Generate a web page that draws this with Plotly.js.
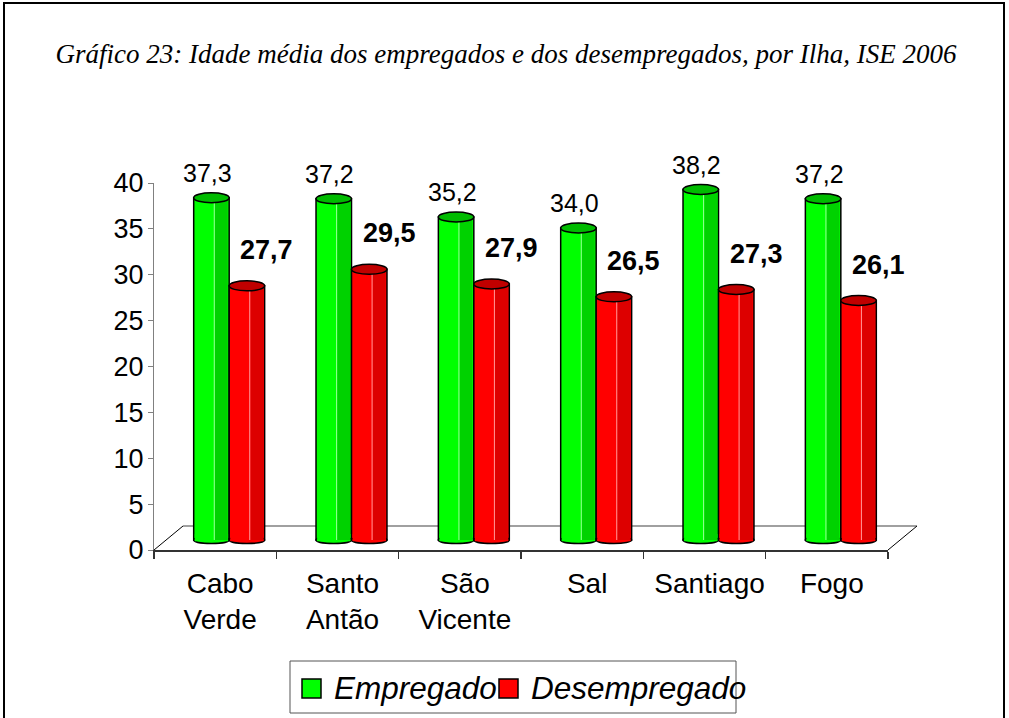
<!DOCTYPE html>
<html>
<head>
<meta charset="utf-8">
<script src="https://cdn.plot.ly/plotly-3.0.1.min.js"></script>
<style>html,body{margin:0;padding:0;background:#fff;}#chart{width:1009px;height:718px;}</style>
</head>
<body>
<div id="chart"></div>
<script>
const titleText = "Gráfico 23: Idade média dos empregados e dos desempregados, por Ilha, ISE 2006";
const categories = ["Cabo Verde", "Santo Antão", "São Vicente", "Sal", "Santiago", "Fogo"];
const empregado = [37.3, 37.2, 35.2, 34.0, 38.2, 37.2];
const desempregado = [27.7, 29.5, 27.9, 26.5, 27.3, 26.1];
const seriesNames = ["Empregado", "Desempregado"];
const yTicks = [0, 5, 10, 15, 20, 25, 30, 35, 40];

// layout geometry (pixels)
const W = 1009, H = 718;
const L = 154, R = 888, T = 183, B = 550;
const pw = R - L, ph = B - T;
const unitX = pw / categories.length;
const unitY = ph / 40;
const depthX = 29, depthY = 24;            // 3D floor depth
const base3d = 10 / unitY;                 // bars sit partway into depth
const shiftX = 14 / unitX;
const bw = 0.29;                           // bar width (category units)
const offG = shiftX - bw, offR = shiftX;

const px = x => (x - L) / pw;
const py = y => (B - y) / ph;

const fmt = v => v.toFixed(1).replace('.', ',');
const tickText = categories.map(c => c.replace(' ', '<br>'));

const styles = [
  {fill: '#00FF00', dark: '#00D200', top: '#00BB00', hi: '#99FF99', off: offG},
  {fill: '#FF0000', dark: '#DD0000', top: '#C00000', hi: '#FF9999', off: offR}
];
const series = [empregado, desempregado];

const traces = series.map((vals, s) => ({
  type: 'bar',
  name: seriesNames[s],
  x: categories,
  y: vals,
  base: base3d,
  offset: styles[s].off,
  width: bw,
  marker: {color: styles[s].fill, line: {color: '#000', width: 1.5}},
  showlegend: false,
  hoverinfo: 'x+y'
}));

const shapes = [];
// floor (drawn below bars)
shapes.push({type: 'line', xref: 'paper', yref: 'paper', x0: px(L), y0: py(B), x1: px(L + depthX), y1: py(B - depthY), line: {color: '#000', width: 1}, layer: 'below'});
shapes.push({type: 'line', xref: 'paper', yref: 'paper', x0: px(L + depthX), y0: py(B - depthY), x1: px(R + depthX), y1: py(B - depthY), line: {color: '#808080', width: 1.5}, layer: 'below'});
shapes.push({type: 'line', xref: 'paper', yref: 'paper', x0: px(R), y0: py(B), x1: px(R + depthX), y1: py(B - depthY), line: {color: '#000', width: 1}, layer: 'below'});

// cylinder shading, rounded bottoms and tops
series.forEach((vals, s) => {
  const st = styles[s];
  vals.forEach((v, i) => {
    const left = i + st.off;
    shapes.push({type: 'circle', xref: 'x', yref: 'y', x0: left, x1: left + bw, ysizemode: 'pixel', yanchor: base3d, y0: -3.5, y1: 3.5, fillcolor: st.fill, line: {color: '#000', width: 1.5}, layer: 'above'});
    shapes.push({type: 'rect', xref: 'x', yref: 'y', x0: left + 0.009, x1: left + bw - 0.009, ysizemode: 'pixel', yanchor: base3d, y0: -1.2, y1: 6, fillcolor: st.fill, line: {width: 0}, layer: 'above'});
    shapes.push({type: 'rect', xref: 'x', yref: 'y', x0: left + bw * 0.6, x1: left + bw - 0.012, y0: base3d, y1: base3d + v, fillcolor: st.dark, line: {width: 0}, layer: 'above'});
    shapes.push({type: 'line', xref: 'x', yref: 'y', x0: left + bw * 0.58, x1: left + bw * 0.58, y0: base3d, y1: base3d + v, line: {color: st.hi, width: 1}, layer: 'above'});
    shapes.push({type: 'circle', xref: 'x', yref: 'y', x0: left, x1: left + bw, ysizemode: 'pixel', yanchor: base3d + v, y0: -5, y1: 5, fillcolor: st.top, line: {color: '#000', width: 1.5}, layer: 'above'});
  });
});

// legend box (manual)
shapes.push({type: 'rect', xref: 'paper', yref: 'paper', x0: px(290), x1: px(736), y0: py(713), y1: py(661), line: {color: '#555', width: 1}, fillcolor: 'rgba(0,0,0,0)'});
const legendSq = [[302, 321], [499, 518]];
const legendTx = [332, 529];
legendSq.forEach((sq, s) => {
  shapes.push({type: 'rect', xref: 'paper', yref: 'paper', x0: px(sq[0]), x1: px(sq[1]), y0: py(698), y1: py(679), fillcolor: styles[s].fill, line: {color: '#000', width: 1.5}});
});
// outer frame
shapes.push({type: 'rect', xref: 'paper', yref: 'paper', x0: px(4), x1: px(1004), y0: py(740), y1: py(3), line: {color: '#000', width: 2}, fillcolor: 'rgba(0,0,0,0)'});

const annotations = [];
empregado.forEach((v, i) => {
  annotations.push({xref: 'x', yref: 'y', x: i + offG + bw / 2, y: base3d + v, text: fmt(v), showarrow: false, yanchor: 'middle', xanchor: 'center', yshift: 25, xshift: -4, font: {family: 'Arial, Liberation Sans', size: 25, color: '#000'}});
});
desempregado.forEach((v, i) => {
  annotations.push({xref: 'x', yref: 'y', x: i + offR + bw / 2, y: base3d + v, text: '<b>' + fmt(v) + '</b>', showarrow: false, yanchor: 'middle', xanchor: 'center', yshift: 36, xshift: 20, font: {family: 'Arial, Liberation Sans', size: 27, color: '#000'}});
});
seriesNames.forEach((n, s) => {
  annotations.push({xref: 'paper', yref: 'paper', x: px(legendTx[s]), y: py(688), text: '<i>' + n + '</i>', showarrow: false, xanchor: 'left', yanchor: 'middle', font: {family: 'Arial, Liberation Sans', size: 31.5, color: '#000', style: 'italic'}});
});

const layout = {
  width: W, height: H,
  margin: {l: L, r: W - R, t: T, b: H - B, pad: 0},
  paper_bgcolor: '#fff', plot_bgcolor: '#fff',
  title: {text: titleText, x: 506 / W, xref: 'container', xanchor: 'center', y: 1 - 54 / H, yref: 'container', yanchor: 'middle',
    font: {family: 'Liberation Serif, Times New Roman, serif', size: 27, style: 'italic', color: '#000'}},
  barmode: 'group',
  xaxis: {type: 'category', range: [-0.5, categories.length - 0.5], tickvals: categories, ticktext: tickText,
    tickson: 'boundaries', ticks: 'outside', ticklen: 7, tickcolor: '#333', tickwidth: 1.5,
    showline: true, linecolor: '#333', linewidth: 2, showgrid: false, zeroline: false,
    ticklabelstandoff: 7, ticklabelshift: 5,
    tickfont: {family: 'Arial, Liberation Sans', size: 28, color: '#000'}, fixedrange: true},
  yaxis: {range: [0, 40], tickvals: yTicks, ticks: 'outside', ticklen: 5, tickcolor: '#808080', tickwidth: 1,
    showline: true, linecolor: '#808080', linewidth: 1, showgrid: false, zeroline: false,
    ticklabelstandoff: -1,
    tickfont: {family: 'Arial, Liberation Sans', size: 27, color: '#000'}, fixedrange: true},
  shapes: shapes,
  annotations: annotations,
  showlegend: false
};

Plotly.newPlot('chart', traces, layout, {displayModeBar: false, staticPlot: true});
</script>
</body>
</html>
